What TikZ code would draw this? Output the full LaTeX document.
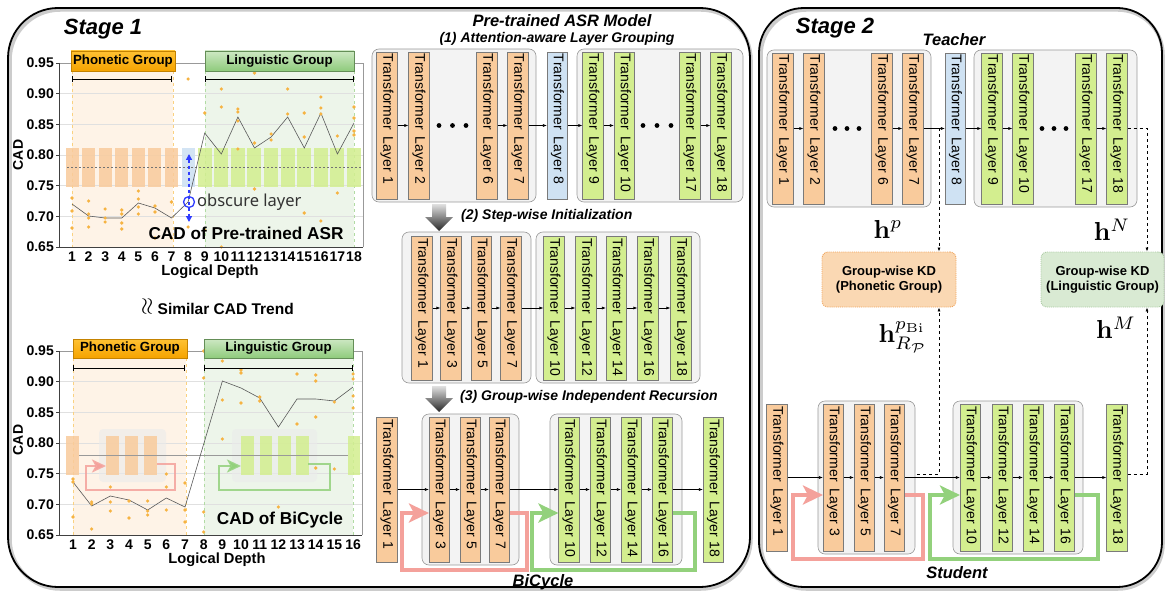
\documentclass[tikz,border=0pt]{standalone}
\usepackage{graphicx}
\usepackage[no-math]{fontspec}
\setmainfont{Liberation Sans}
\newfontfamily\obsfont{Noto Sans}
\usetikzlibrary{arrows.meta,calc}

\definecolor{orB}{HTML}{F9CB9C}
\definecolor{blB}{HTML}{CFE2F3}
\definecolor{grB}{HTML}{D3EE8F}
\definecolor{barLine}{HTML}{7A7A7A}
\definecolor{grpFill}{HTML}{F3F3F3}
\definecolor{grpLine}{HTML}{9A9A9A}
\definecolor{phRegion}{HTML}{FEF3E7}
\definecolor{lgRegion}{HTML}{EDF5EA}
\definecolor{phTop}{HTML}{FFC233}
\definecolor{phBot}{HTML}{F5A300}
\definecolor{lgTop}{HTML}{CDE8C3}
\definecolor{lgBot}{HTML}{8FCB7C}
\definecolor{dotC}{HTML}{F6B342}
\definecolor{pinkL}{HTML}{F4A19B}
\definecolor{greenL}{HTML}{93D17C}
\definecolor{kdO}{HTML}{FAD8B3}
\definecolor{kdOl}{HTML}{F1A45C}
\definecolor{kdG}{HTML}{D9EAD3}
\definecolor{kdGl}{HTML}{A9C9A1}
\definecolor{obsBlue}{HTML}{2F3CFF}

\tikzset{
 tbar/.style={draw=barLine, line width=0.6pt, rotate=-90, inner xsep=2pt, inner ysep=0pt, align=left, minimum height=20.5pt, font=\fontsize{14}{14}\selectfont},
 grp/.style={fill=grpFill, draw=grpLine, line width=0.6pt, rounded corners=7pt},
 arr/.style={-{Latex[length=4pt,width=3pt]}, line width=0.6pt},
 dsh/.style={dashed, line width=0.7pt, -{Latex[length=4pt,width=3pt]}},
 loopP/.style={draw=pinkL, line width=4pt, -{Stealth[length=20pt,width=19pt,inset=5pt]}},
 loopG/.style={draw=greenL, line width=4pt, -{Stealth[length=20pt,width=19pt,inset=5pt]}},
 sloopP/.style={draw=pinkL, draw opacity=0.85, line width=2.5pt, -{Stealth[length=14pt,width=13pt,inset=3.5pt]}},
 sloopG/.style={draw=greenL, draw opacity=0.85, line width=2.5pt, -{Stealth[length=14pt,width=13pt,inset=3.5pt]}},
 ttl/.style={font=\bfseries\itshape\fontsize{16.5}{17}\selectfont, inner sep=1pt},
 stg/.style={font=\bfseries\itshape\fontsize{22}{22}\selectfont},
 sub/.style={font=\bfseries\itshape\fontsize{14}{14}\selectfont, inner sep=1pt},
 tick/.style={font=\bfseries\fontsize{14}{14}\selectfont, inner sep=0pt},
 glab/.style={font=\bfseries\fontsize{13.3}{14}\selectfont, inner sep=0pt, line width=0.5pt},
 kd/.style={font=\bfseries\fontsize{13}{15.5}\selectfont, align=center, rounded corners=6pt, densely dotted, line width=0.9pt, minimum height=55pt, inner sep=0pt},
 mlab/.style={inner sep=1pt},
 cad/.style={font=\bfseries\fontsize{17.2}{17}\selectfont},
 plotl/.style={black!65, line width=0.6pt},
}
\newcommand{\tfl}[6]{\node[tbar, fill=#2, text width=#5] (#1) at (#3,#4) {Transformer\hspace{0.5em}Layer #6};}

\begin{document}
\begin{tikzpicture}[x=1pt,y=-1pt]
\useasboundingbox (0,0) rectangle (1165,591);
\fill[white] (0,0) rectangle (1165,591);

% ---------- stage frames ----------
\draw[line width=3.5pt, black!20, rounded corners=50pt] (10,10) rectangle (751,589);
\draw[line width=1.8pt, rounded corners=50pt] (8,8) rectangle (750,587);
\draw[line width=3.5pt, black!20, rounded corners=45pt] (761,10) rectangle (1163,589);
\draw[line width=1.8pt, rounded corners=45pt] (759,8) rectangle (1162,587);
\node[stg] (st1) at (103,29) {Stage 1};
\node[stg] (st2) at (835,28) {Stage 2};

% ================= CHART 1 =================
\fill[phRegion] (72,71) rectangle (173,247);
\fill[lgRegion] (205,71) rectangle (354,247);
\foreach \y in {93.7,124.3,155,185.7,216.3} \draw[black!12, line width=0.5pt] (59,\y) -- (363,\y);
\draw[black!40, line width=0.5pt] (59,63) -- (363,63) -- (363,247);
\draw[phBot!50, dashed, line width=0.5pt] (72,71) -- (72,247) (173,71) -- (173,247);
\draw[lgBot!70, dashed, line width=0.5pt] (205,71) -- (205,247) (354,71) -- (354,247);
\foreach \i in {1,...,7} \fill[orB, fill opacity=0.85] ({72+(\i-1)*16.59-6.5},148) rectangle ++(13,39);
\fill[blB, fill opacity=0.9] (181.6,148) rectangle ++(13,39);
\foreach \i in {9,...,18} \fill[grB, fill opacity=0.85] ({72+(\i-1)*16.59-7},148) rectangle ++(14,39);
\draw[black!55, dash pattern=on 1.5pt off 2.5pt, line width=0.5pt] (67,167) -- (361,167);
\draw[plotl] plot coordinates {(72,204) (88.6,216) (105.2,218) (121.8,218) (138.4,203) (154.9,208) (171.5,218) (188.1,202) (204.7,133) (221.3,154) (237.9,117) (254.5,148) (271.1,137) (287.7,117) (304.3,148) (320.9,113) (337.4,154) (354,123)};
\foreach \i/\y in {1/198,1/211,1/228,2/201,2/214,2/218,2/227,3/209,3/218,3/222,4/210,4/214,4/223,4/229,5/191,5/199,5/207,5/214,6/206,6/212,6/238,7/202,7/238,8/79,8/227,9/113,9/230,10/89,10/107,10/247,11/109,11/112,11/121,11/149,12/73,12/143,12/189,13/134,13/140,14/89,14/114,15/113,15/137,15/213,16/97,16/108,16/114,16/221,17/136,17/193,18/107,18/118,18/131,18/135}
  \fill[dotC] ({72+(\i-1)*16.59},\y) circle (1.8pt);
\draw[black!75, line width=0.8pt] (59,63) -- (59,247) -- (363,247);
\foreach \v/\y [count=\j] in {0.95/63,0.90/93.7,0.85/124.3,0.80/155,0.75/185.7,0.70/216.3,0.65/247} {
  \draw[black!75, line width=0.6pt] (56,\y) -- (59,\y);
  \node[tick, anchor=east] (ya\j) at (54,\y) {\v};
}
\foreach \i in {1,...,18} \node[tick] (xa\i) at ({72+(\i-1)*16.59},257) {\i};
\node[tick, rotate=90] (cada) at (18,155) {CAD};
\node[font=\bfseries\fontsize{14.7}{15}\selectfont] (lda) at (210,272) {Logical Depth};
\node[glab, shade, top color=phTop, bottom color=phBot, draw=phBot!80!black, minimum width=104pt, minimum height=20pt] (pg1) at (123,61) {Phonetic Group};
\node[glab, shade, top color=lgTop, bottom color=lgBot, draw=lgBot!70!black, minimum width=149pt, minimum height=20pt] (lg1) at (279.5,61) {Linguistic Group};
\draw[line width=0.9pt, {Bar[width=6pt]}-{Bar[width=6pt]}] (72,79) -- (172,79);
\draw[line width=0.9pt, {Bar[width=6pt]}-{Bar[width=6pt]}] (205,79) -- (354,79);
\draw[obsBlue, dashed, line width=1.3pt, {Triangle[length=6pt,width=6pt]}-{Triangle[length=6pt,width=6pt]}] (189,154) -- (189,222);
\draw[obsBlue, line width=1.3pt] (189,202) circle (5.5pt);
\node[anchor=west, font=\obsfont\fontsize{16.5}{17}\selectfont, text=black!80, inner sep=0pt] (obs) at (197,202) {obscure layer};
\node[cad] (cada2) at (246,233) {CAD of Pre-trained ASR};

% similar trend
\node[font=\bfseries\fontsize{15.5}{16}\selectfont] (sim) at (218,307) {\raisebox{-1pt}{\scalebox{1.6}{\rotatebox{90}{$\approx$}}}\ Similar CAD Trend};

% ================= CHART 2 =================
\fill[phRegion] (73,358) rectangle (186,535);
\fill[lgRegion] (204,358) rectangle (353,535);
\foreach \y in {381.7,412.3,443,473.7,504.3} \draw[black!12, line width=0.5pt] (59,\y) -- (362,\y);
\draw[black!40, line width=0.5pt] (59,351) -- (362,351) -- (362,535);
\draw[phBot!50, dashed, line width=0.5pt] (73,358) -- (73,535) (186,358) -- (186,535);
\draw[lgBot!70, dashed, line width=0.5pt] (204,358) -- (204,535) (353,358) -- (353,535);
% faded overlay
\fill[orB, fill opacity=0.85] (66,436) rectangle (79,475);
\fill[black!8, fill opacity=0.6, rounded corners=4pt] (99,429) rectangle (166,482);
\foreach \x in {106,125,144} \fill[orB, fill opacity=0.85] (\x,436) rectangle ++(13,39);
\fill[black!8, fill opacity=0.6, rounded corners=4pt] (232,429) rectangle (317,482);
\foreach \x in {241,259.5,278,296} \fill[grB, fill opacity=0.85] (\x,436) rectangle ++(12.5,39);
\fill[grB, fill opacity=0.85] (348,436) rectangle (360,475);
\draw[black!40, line width=0.5pt] (79,455) -- (348,455);
\draw[sloopP] (157,464) -- (175,464) -- (175,490) -- (86,490) -- (86,466) -- (106,466);
\draw[sloopG] (308,464) -- (330,464) -- (330,490) -- (219,490) -- (219,466) -- (241,466);
\draw[plotl] plot coordinates {(73,482) (91.7,506) (110.3,496) (129,500) (147.7,510) (166.3,498) (185,507) (222.4,381) (241,388) (259.7,398) (278.4,427) (297,399) (315.7,399) (334.4,401) (353,387)};
\foreach \i/\y in {1/479,1/482,1/517,2/502,2/504,2/529,3/487,3/502,3/511,4/501,4/518,5/501,5/511,5/515,6/474,6/487,6/510,7/483,7/510,7/522,8/351,8/378,8/512,8/532,9/361,9/400,9/439,10/370,10/373,10/403,11/397,11/401,12/507,13/374,13/424,14/375,14/381,14/417,14/468,15/402,15/469,16/374,16/379,16/396,16/408}
  \fill[dotC] ({73+(\i-1)*18.67},\y) circle (1.8pt);
\draw[black!75, line width=0.8pt] (59,351) -- (59,535) -- (362,535);
\foreach \v/\y [count=\j] in {0.95/351,0.90/381.7,0.85/412.3,0.80/443,0.75/473.7,0.70/504.3,0.65/535} {
  \draw[black!75, line width=0.6pt] (56,\y) -- (59,\y);
  \node[tick, anchor=east] (yb\j) at (54,\y) {\v};
}
\foreach \i in {1,...,16} \node[tick] (xb\i) at ({73+(\i-1)*18.67},545) {\i};
\node[tick, rotate=90] (cadb) at (18,440) {CAD};
\node[font=\bfseries\fontsize{14.7}{15}\selectfont] (ldb) at (217,560) {Logical Depth};
\node[glab, shade, top color=phTop, bottom color=phBot, draw=phBot!80!black, minimum width=114pt, minimum height=19pt] (pg2) at (130,348.5) {Phonetic Group};
\node[glab, shade, top color=lgTop, bottom color=lgBot, draw=lgBot!70!black, minimum width=149pt, minimum height=19pt] (lg2) at (278.5,348.5) {Linguistic Group};
\draw[line width=0.9pt, {Bar[width=6pt]}-{Bar[width=6pt]}] (73,368) -- (185,368);
\draw[line width=0.9pt, {Bar[width=6pt]}-{Bar[width=6pt]}] (204,368) -- (353,368);
\node[cad] (cadb2) at (280,520) {CAD of BiCycle};

% ================= MIDDLE =================
\node[ttl] (pt) at (562,21) {Pre-trained ASR Model};
\node[sub] (h1) at (557,38.5) {(1) Attention-aware Layer Grouping};
% row 1
\draw[grp] (372,49) rectangle (536,202);
\draw[grp] (577,49) rectangle (743,202);
\tfl{a1}{orB}{387}{125.5}{143pt}{1}
\tfl{a2}{orB}{419}{125.5}{143pt}{2}
\tfl{a6}{orB}{487}{125.5}{143pt}{6}
\tfl{a7}{orB}{518}{125.5}{143pt}{7}
\tfl{a8}{blB}{557.5}{125.5}{143pt}{8}
\tfl{a9}{grB}{593}{125.5}{143pt}{9}
\tfl{a10}{grB}{624.5}{125.5}{143pt}{10}
\tfl{a17}{grB}{690}{125.5}{143pt}{17}
\tfl{a18}{grB}{721}{125.5}{143pt}{18}
\foreach \x in {439,452.5,466,643,657,671} \fill (\x,125.5) circle (2.4pt);
\draw[arr] (a1.north) -- (a2.south);
\draw[arr] (a6.north) -- (a7.south);
\draw[arr] (a7.north) -- (a8.south);
\draw[arr] (a8.north) -- (a9.south);
\draw[arr] (a9.north) -- (a10.south);
\draw[arr] (a17.north) -- (a18.south);

% step arrow 1
\shade[top color=black!12, bottom color=black!85] (432,204) -- (446,204) -- (446,217) -- (453,217) -- (439,231) -- (425,217) -- (432,217) -- cycle;
\node[sub, anchor=west] (h2) at (460,216) {(2) Step-wise Initialization};
% row 2
\draw[grp] (402,232) rectangle (531,383);
\draw[grp] (536,232) rectangle (700,383);
\tfl{b1}{orB}{422}{308}{140pt}{1}
\tfl{b3}{orB}{451}{308}{140pt}{3}
\tfl{b5}{orB}{481.5}{308}{140pt}{5}
\tfl{b7}{orB}{511}{308}{140pt}{7}
\tfl{b10}{grB}{554}{308}{140pt}{10}
\tfl{b12}{grB}{586}{308}{140pt}{12}
\tfl{b14}{grB}{616.5}{308}{140pt}{14}
\tfl{b16}{grB}{648}{308}{140pt}{16}
\tfl{b18}{grB}{681}{308}{140pt}{18}
\draw[arr] (b1.north) -- (b3.south);
\draw[arr] (b3.north) -- (b5.south);
\draw[arr] (b5.north) -- (b7.south);
\draw[arr] (b7.north) -- (b10.south);
\draw[arr] (b10.north) -- (b12.south);
\draw[arr] (b12.north) -- (b14.south);
\draw[arr] (b14.north) -- (b16.south);
\draw[arr] (b16.north) -- (b18.south);

% step arrow 2
\shade[top color=black!12, bottom color=black!85] (432,386) -- (446,386) -- (446,398) -- (453,398) -- (439,412) -- (425,398) -- (432,398) -- cycle;
\node[sub, anchor=west] (h3) at (459,397) {(3) Group-wise Independent Recursion};
% row 3
\draw[grp] (422,414) rectangle (519,565);
\draw[grp] (550,414) rectangle (682,565);
\tfl{c1}{orB}{387}{489.5}{141pt}{1}
\tfl{c3}{orB}{439.5}{489.5}{141pt}{3}
\tfl{c5}{orB}{470.5}{489.5}{141pt}{5}
\tfl{c7}{orB}{499.5}{489.5}{141pt}{7}
\tfl{c10}{grB}{569}{489.5}{141pt}{10}
\tfl{c12}{grB}{600.5}{489.5}{141pt}{12}
\tfl{c14}{grB}{631.5}{489.5}{141pt}{14}
\tfl{c16}{grB}{662.5}{489.5}{141pt}{16}
\tfl{c18}{grB}{713.5}{489.5}{141pt}{18}
\draw[arr] (c1.north) -- (c3.south);
\draw[arr] (c3.north) -- (c5.south);
\draw[arr] (c5.north) -- (c7.south);
\draw[arr] (c7.north) -- (c10.south);
\draw[arr] (c10.north) -- (c12.south);
\draw[arr] (c12.north) -- (c14.south);
\draw[arr] (c14.north) -- (c16.south);
\draw[arr] (c16.north) -- (c18.south);
\draw[loopP] ([yshift=-23.5pt]c7.north) -- (527,513) -- (527,570) -- (402,570) -- (402,513) -- ([yshift=-23.5pt]c3.south);
\draw[loopG] ([yshift=-23.5pt]c16.north) -- (695,513) -- (695,570) -- (532,570) -- (532,513) -- ([yshift=-23.5pt]c10.south);
\node[ttl] (bic) at (543,582) {BiCycle};

% ================= STAGE 2 =================
\node[ttl] (tea) at (954,40) {Teacher};
\draw[grp] (767,50) rectangle (931,207);
\draw[grp] (974,50) rectangle (1137,207);
\tfl{t1}{orB}{783}{128.5}{147pt}{1}
\tfl{t2}{orB}{814}{128.5}{147pt}{2}
\tfl{t6}{orB}{882}{128.5}{147pt}{6}
\tfl{t7}{orB}{913}{128.5}{147pt}{7}
\tfl{t8}{blB}{955.5}{128.5}{147pt}{8}
\tfl{t9}{grB}{992}{128.5}{147pt}{9}
\tfl{t10}{grB}{1023}{128.5}{147pt}{10}
\tfl{t17}{grB}{1086}{128.5}{147pt}{17}
\tfl{t18}{grB}{1117}{128.5}{147pt}{18}
\foreach \x in {835,847,859,1042,1054,1066} \fill (\x,128.5) circle (2.4pt);
\draw[arr] (t1.north) -- (t2.south);
\draw[arr] (t6.north) -- (t7.south);
\draw[arr] (t7.north) -- (t8.south);
\draw[arr] (t8.north) -- (t9.south);
\draw[arr] (t9.north) -- (t10.south);
\draw[arr] (t17.north) -- (t18.south);

\node[kd, fill=kdO, draw=kdOl, minimum width=134pt] (kdo) at (889,279.5) {Group-wise KD\\(Phonetic Group)};
\node[kd, fill=kdG, draw=kdGl, minimum width=123pt] (kdg) at (1102.5,279.5) {Group-wise KD\\(Linguistic Group)};

\coordinate (tp) at (939,128.5);
\draw[dsh] (tp) -- (tp |- kdo.north);
\coordinate (tr) at (1147,128.5);
\draw[dsh] (t18.north) -- (tr) -- (tr |- kdg.north);

\node[mlab] (hp) at (888,229) {\scalebox{2.6}{$\mathbf{h}^{p}$}};
\node[mlab] (hN) at (1112,230) {\scalebox{2.6}{$\mathbf{h}^{N}$}};
\node[mlab] (hpb) at (903,337) {\scalebox{2.6}{$\mathbf{h}^{p_{\mathrm{Bi}}}_{R_{\mathcal{P}}}$}};
\node[mlab] (hM) at (1116,328) {\scalebox{2.6}{$\mathbf{h}^{M}$}};

% student
\draw[grp] (818,401) rectangle (915,554);
\draw[grp] (953,401) rectangle (1083,554);
\tfl{s1}{orB}{777}{477.5}{143pt}{1}
\tfl{s3}{orB}{833.5}{477.5}{143pt}{3}
\tfl{s5}{orB}{864.5}{477.5}{143pt}{5}
\tfl{s7}{orB}{894.5}{477.5}{143pt}{7}
\tfl{s10}{grB}{970.5}{477.5}{143pt}{10}
\tfl{s12}{grB}{1002.5}{477.5}{143pt}{12}
\tfl{s14}{grB}{1033.5}{477.5}{143pt}{14}
\tfl{s16}{grB}{1064.5}{477.5}{143pt}{16}
\tfl{s18}{grB}{1117}{477.5}{143pt}{18}
\draw[arr] (s1.north) -- (s3.south);
\draw[arr] (s3.north) -- (s5.south);
\draw[arr] (s5.north) -- (s7.south);
\draw[arr] (s7.north) -- (s10.south);
\draw[arr] (s10.north) -- (s12.south);
\draw[arr] (s12.north) -- (s14.south);
\draw[arr] (s14.north) -- (s16.south);
\draw[arr] (s16.north) -- (s18.south);
\coordinate (sp) at (917,474);
\coordinate (spc) at (939,474);
\draw[dsh] (sp) -- (spc) -- (spc |- kdo.south);
\coordinate (sr) at (1147,474);
\draw[dsh] ([yshift=3.5pt]s18.north) -- (sr) -- (sr |- kdg.south);
\draw[loopP] ([yshift=-17.5pt]s7.north) -- (923,495) -- (923,559) -- (793,559) -- (793,495) -- ([yshift=-17.5pt]s3.south);
\draw[loopG] ([yshift=-17.5pt]s16.north) -- (1098,495) -- (1098,559) -- (930,559) -- (930,495) -- ([yshift=-17.5pt]s10.south);
\node[ttl] (stu) at (957,573) {Student};
\end{tikzpicture}
\end{document}
